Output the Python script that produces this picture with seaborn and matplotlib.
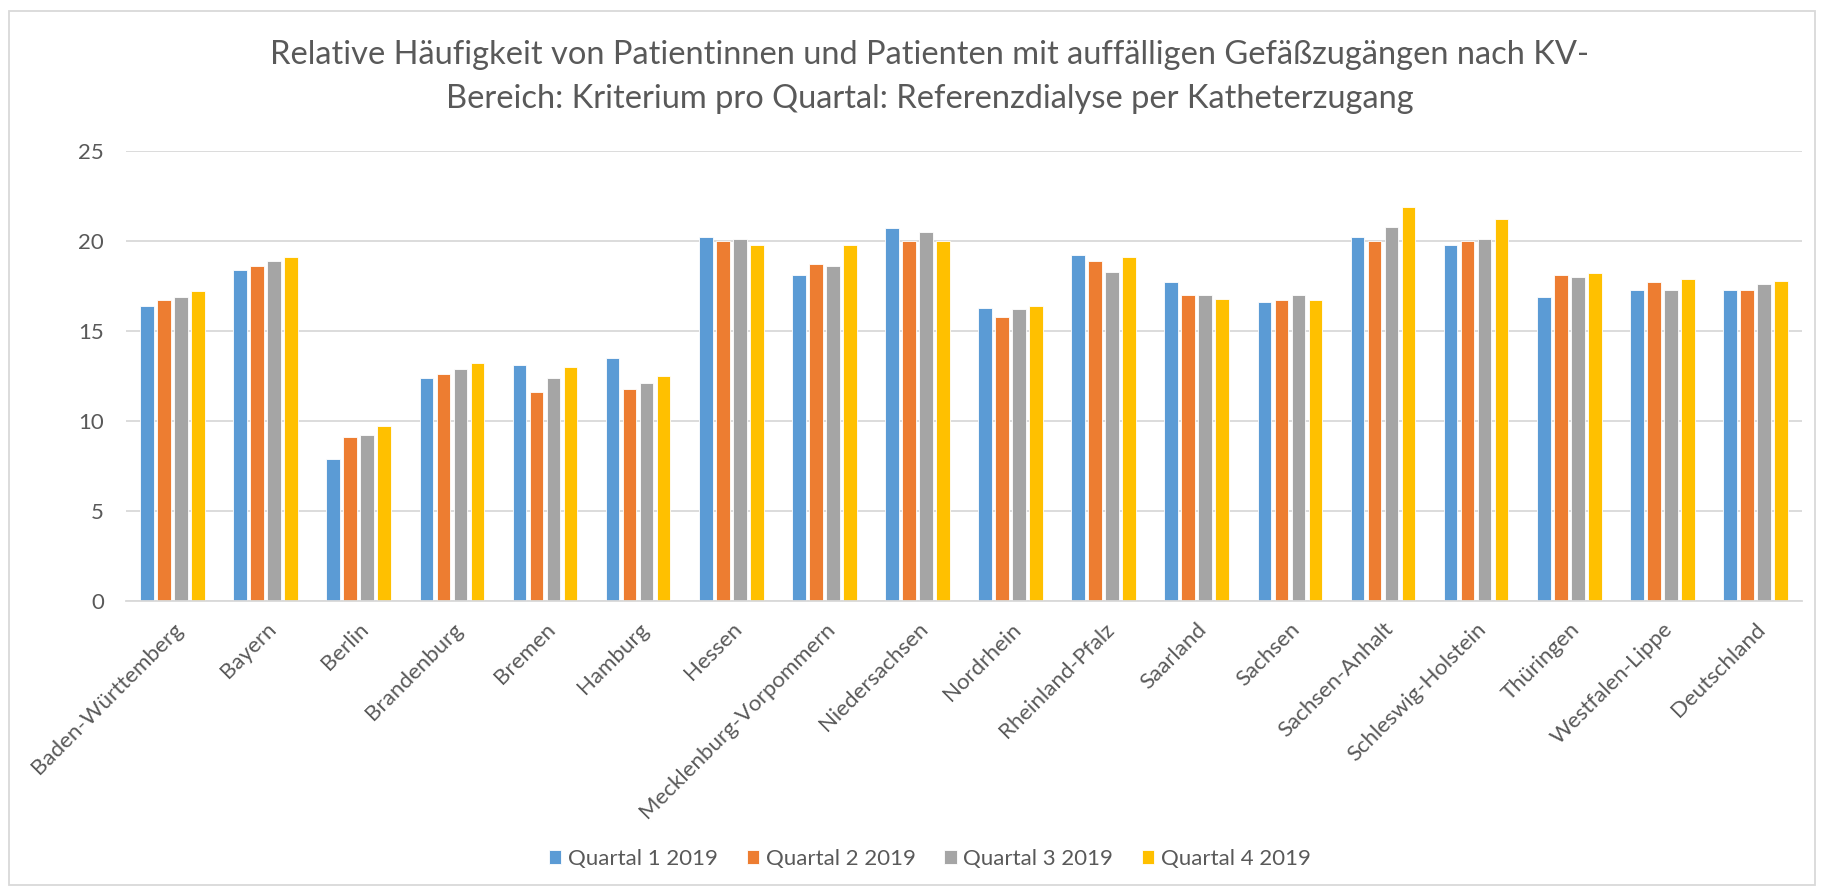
import pandas as pd
import matplotlib
matplotlib.use("Agg")
import matplotlib.pyplot as plt
import seaborn as sns
from matplotlib.patches import Rectangle

regions = [
    "Baden-Württemberg", "Bayern", "Berlin", "Brandenburg", "Bremen", "Hamburg",
    "Hessen", "Mecklenburg-Vorpommern", "Niedersachsen", "Nordrhein",
    "Rheinland-Pfalz", "Saarland", "Sachsen", "Sachsen-Anhalt",
    "Schleswig-Holstein", "Thüringen", "Westfalen-Lippe", "Deutschland",
]
quarters = ["Quartal 1 2019", "Quartal 2 2019", "Quartal 3 2019", "Quartal 4 2019"]

q1 = [16.4, 18.4, 7.9, 12.4, 13.1, 13.5, 20.2, 18.1, 20.7, 16.3, 19.2, 17.7, 16.6, 20.2, 19.8, 16.9, 17.3, 17.3]
q2 = [16.7, 18.6, 9.1, 12.6, 11.6, 11.8, 20.0, 18.7, 20.0, 15.8, 18.9, 17.0, 16.7, 20.0, 20.0, 18.1, 17.7, 17.3]
q3 = [16.9, 18.9, 9.2, 12.9, 12.4, 12.1, 20.1, 18.6, 20.5, 16.2, 18.3, 17.0, 17.0, 20.8, 20.1, 18.0, 17.3, 17.6]
q4 = [17.2, 19.1, 9.7, 13.2, 13.0, 12.5, 19.8, 19.8, 20.0, 16.4, 19.1, 16.8, 16.7, 21.9, 21.2, 18.2, 17.9, 17.8]

colors = ["#5B9BD5", "#ED7D31", "#A5A5A5", "#FFC000"]
text_col = "#595959"
grid_col = "#D9D9D9"

df = pd.DataFrame({"Region": regions, quarters[0]: q1, quarters[1]: q2,
                   quarters[2]: q3, quarters[3]: q4})
long_df = df.melt(id_vars="Region", var_name="Quartal", value_name="Wert")

sns.set_style("white")
plt.rcParams["font.family"] = ["Lato", "DejaVu Sans"]

fig = plt.figure(figsize=(18.25, 8.91), dpi=100)
ax = fig.add_axes([126 / 1825, 1 - 601 / 891, (1802 - 126) / 1825, 450 / 891])

sns.barplot(data=long_df, x="Region", y="Wert", hue="Quartal", order=regions,
            hue_order=quarters, palette=colors, width=0.73, gap=0.2,
            edgecolor="white", linewidth=0.6, saturation=1, errorbar=None, ax=ax)

ax.set_ylim(0, 25)
ax.set_yticks([0, 5, 10, 15, 20, 25])
ax.set_xlim(-0.5, len(regions) - 0.5)
ax.yaxis.grid(True, color=grid_col, linewidth=1.3)
ax.set_axisbelow(True)
for side in ["top", "right", "left"]:
    ax.spines[side].set_visible(False)
ax.spines["bottom"].set_color(grid_col)
ax.spines["bottom"].set_linewidth(1.3)
ax.set_xlabel("")
ax.set_ylabel("")
ax.tick_params(axis="both", length=0, labelsize=16, labelcolor=text_col)
ax.tick_params(axis="y", pad=16)
ax.tick_params(axis="x", pad=13)
ax.set_xticks(range(len(regions)))
ax.set_xticklabels(regions, rotation=45, ha="right", rotation_mode="anchor")

ax.get_legend().remove()
handles, labels = ax.get_legend_handles_labels()
fig.legend(handles, labels, loc="center", bbox_to_anchor=(930 / 1825, 1 - 859 / 891),
           ncol=4, frameon=False, fontsize=16, labelcolor=text_col,
           handlelength=0.55, handleheight=0.55, handletextpad=0.3, columnspacing=1.3)

fig.text(930 / 1825, 1 - 77 / 891,
         "Relative Häufigkeit von Patientinnen und Patienten mit auffälligen Gefäßzugängen nach KV-\n"
         "Bereich: Kriterium pro Quartal: Referenzdialyse per Katheterzugang",
         ha="center", va="center", fontsize=23.5, color=text_col, linespacing=1.6)

fig.patches.append(Rectangle((9 / 1825, 6 / 891), 1806 / 1825, 874 / 891,
                             transform=fig.transFigure, fill=False,
                             edgecolor=grid_col, linewidth=1.3))

fig.savefig("out.png", dpi=100)
